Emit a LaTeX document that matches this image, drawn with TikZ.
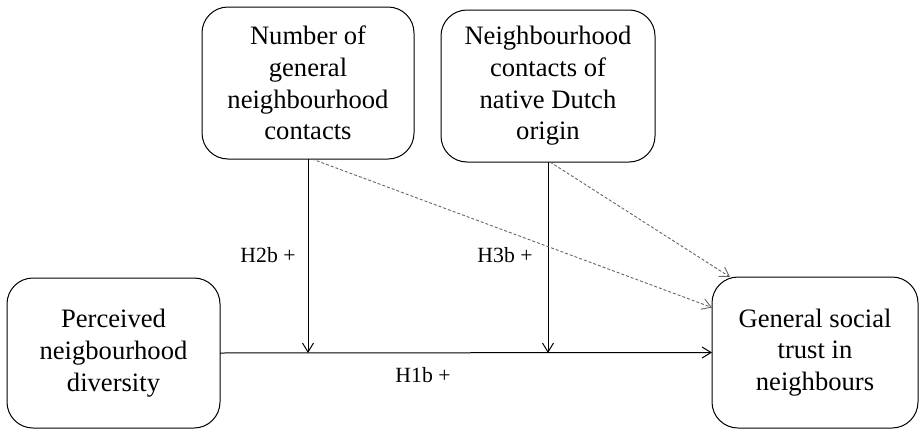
\documentclass[tikz,border=0pt]{standalone}
\usepackage{fontspec}
\setmainfont{Liberation Serif}
\usetikzlibrary{arrows.meta}

\begin{document}
\begin{tikzpicture}[x=1pt,y=-1pt,
  every node/.style={outer sep=0pt, inner sep=0pt},
  varbox/.style={draw, line width=1pt, rounded corners=26pt, align=center,
    font=\fontsize{26.6}{31.7}\selectfont},
  hyplabel/.style={font=\fontsize{21.7}{26}\selectfont},
  arr/.style={line width=1pt, -{Straight Barb[length=9pt,width=11pt]}},
  modarr/.style={line width=0.9pt, gray!80!black, dash pattern=on 3pt off 2pt,
    -{Straight Barb[length=9pt,width=11pt]}}]

\useasboundingbox (0,0) rectangle (924,434);

\node[varbox, minimum width=212pt, minimum height=152pt] (contacts) at (308,83)
  {Number of\\general\\neighbourhood\\contacts};
\node[varbox, minimum width=214pt, minimum height=152pt] (dutch) at (548,86)
  {Neighbourhood\\contacts of\\native Dutch\\origin};
\node[varbox, minimum width=213pt, minimum height=150pt] (diversity) at (113.5,353)
  {Perceived\\neigbourhood\\diversity};
\node[varbox, minimum width=206pt, minimum height=151pt] (trust) at (815,352.5)
  {General social\\trust in\\neighbours};

% main path
\draw[arr] (diversity.east) -- (trust.west);
\coordinate (m1) at (contacts.south |- diversity.east);
\coordinate (m2) at (dutch.south |- diversity.east);
\draw[arr] (contacts.south) -- (m1);
\draw[arr] (dutch.south) -- (m2);

% direct effects of the moderators
\coordinate (t1) at ([yshift=45pt]trust.west);
\coordinate (t2) at ([xshift=18pt]trust.north west);
\draw[modarr] ([xshift=4pt]contacts.south) -- (t1);
\draw[modarr] ([xshift=2pt]dutch.south) -- (t2);

\node[hyplabel] (h2b) at (268,255) {H2b +};
\node[hyplabel] (h3b) at (505,255) {H3b +};
\node[hyplabel] (h1b) at (423,375) {H1b +};
\end{tikzpicture}
\end{document}
